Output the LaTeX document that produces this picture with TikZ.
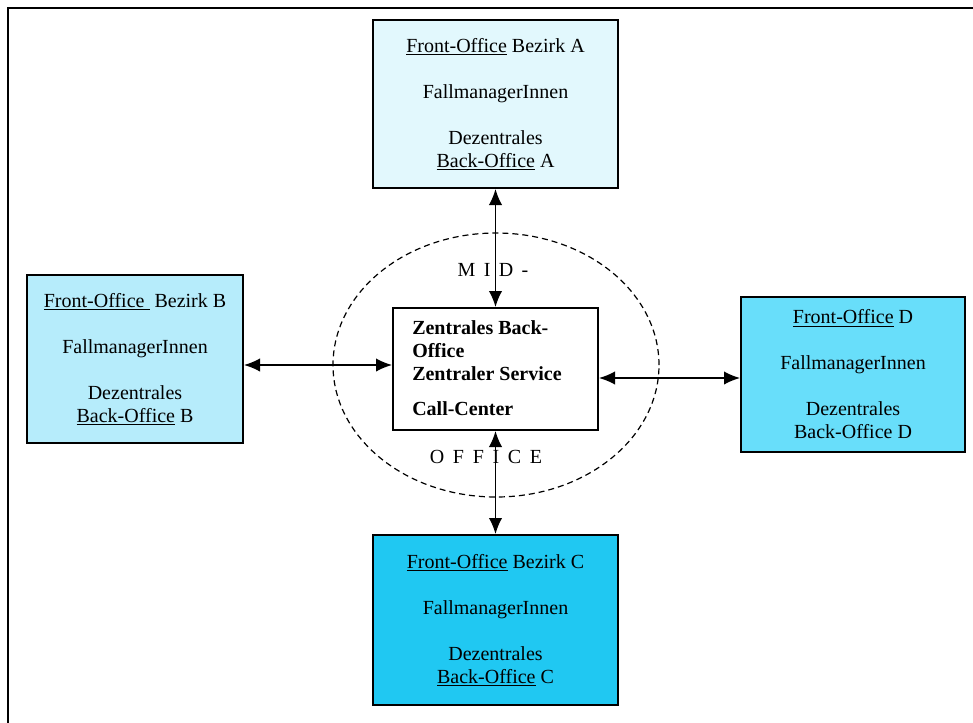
\documentclass[tikz,border=0pt]{standalone}
\usepackage{fontspec}
\setmainfont{Liberation Serif}
\usetikzlibrary{arrows.meta,shapes.geometric}
\definecolor{fillA}{RGB}{226,248,253}
\definecolor{fillB}{RGB}{182,236,251}
\definecolor{fillD}{RGB}{104,222,250}
\definecolor{fillC}{RGB}{32,200,242}
\tikzset{
  office/.style={draw=black, line width=1.5pt, align=center, inner sep=0pt,
    font=\fontsize{15}{17.25}\selectfont},
  link/.style={line width=1.1pt, {Latex[length=12pt,width=10pt]}-{Latex[length=12pt,width=10pt]}},
  spaced/.style={font=\fontsize{15}{17.25}\selectfont, inner sep=0pt}
}
\begin{document}
\begin{tikzpicture}[x=0.75pt,y=-0.75pt]
\useasboundingbox (0,0) rectangle (973,722);
\draw[line width=1.8pt] (8,724) -- (8,8) -- (975,8);
% dashed ring
\node[draw, ellipse, dashed, dash pattern=on 4.5pt off 3pt, line width=0.9pt,
  minimum width=326*0.75pt, minimum height=264*0.75pt] (ring) at (496,365) {};
% offices
\node[office, fill=fillA, minimum width=245*0.75pt, minimum height=168*0.75pt] (A) at (495.5,104)
  {\underline{Front-Office} Bezirk A\\[17.25pt] FallmanagerInnen\\[17.25pt] Dezentrales\\ \underline{Back-Office} A};
\node[office, fill=fillB, minimum width=216*0.75pt, minimum height=168*0.75pt] (B) at (135,359)
  {\underline{Front-Office\ } Bezirk B\\[17.25pt] FallmanagerInnen\\[17.25pt] Dezentrales\\ \underline{Back-Office} B};
\node[office, fill=fillD, minimum width=224*0.75pt, minimum height=155*0.75pt] (D) at (853,374.5)
  {\underline{Front-Office} D\\[17.25pt] FallmanagerInnen\\[17.25pt] Dezentrales\\ Back-Office D};
\node[office, fill=fillC, minimum width=245*0.75pt, minimum height=170*0.75pt] (C) at (495.5,620)
  {\underline{Front-Office} Bezirk C\\[17.25pt] FallmanagerInnen\\[17.25pt] Dezentrales\\ \underline{Back-Office} C};
% central box
\node[draw=black, fill=white, line width=1.5pt, minimum width=205*0.75pt, minimum height=122*0.75pt,
  inner sep=0pt] (mid) at (495.5,369) {};
\node[anchor=north west, align=left, inner sep=0pt, font=\fontsize{15}{17.25}\selectfont\bfseries] (midtxt) at (412,320)
  {Zentrales Back-\\ Office\\ Zentraler Service\\[9pt] Call-Center};
% labels
\node[spaced] (lmid) at (493,270) {M\hspace{6.3pt}I\hspace{6.3pt}D\hspace{6.3pt}-};
\node[spaced] (loff) at (486,457) {O\hspace{6.5pt}F\hspace{6.5pt}F\hspace{6.5pt}I\hspace{6.5pt}C\hspace{6.5pt}E};
% connectors
\coordinate (yl) at (0,365);
\coordinate (yr) at (0,378);
\draw[link] (A.south) -- (mid.north);
\draw[link] (mid.south) -- (C.north);
\draw[link] (B.east |- yl) -- (mid.west |- yl);
\draw[link] (mid.east |- yr) -- (D.west |- yr);
\end{tikzpicture}
\end{document}
